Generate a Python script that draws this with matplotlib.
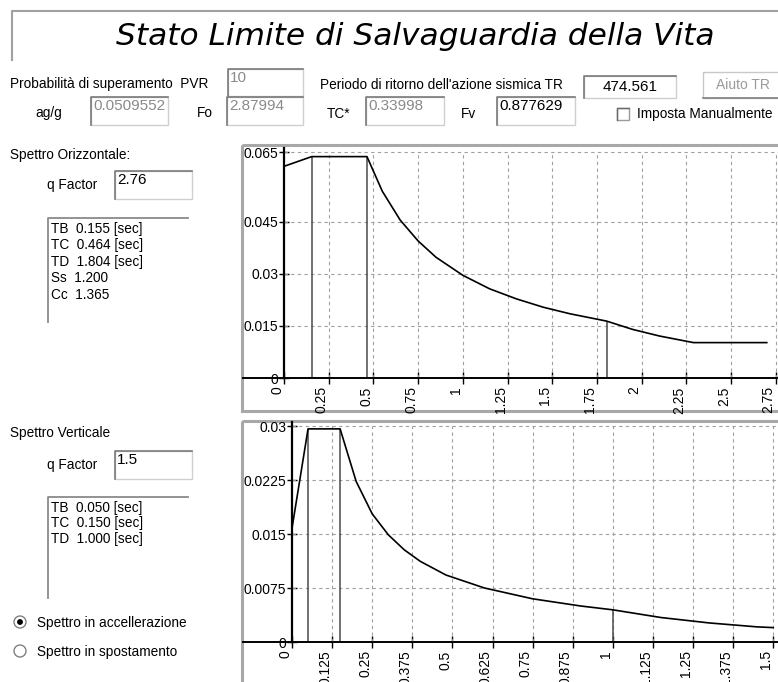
import numpy as np
import matplotlib
matplotlib.use("Agg")
import matplotlib.pyplot as plt
from matplotlib import font_manager
from matplotlib.patches import Rectangle, Circle

W, H = 778, 682

# horizontal spectrum
T_h = [0, 0.155, 0.464, 0.55, 0.65, 0.75, 0.85, 1.0, 1.15, 1.3, 1.45, 1.6,
       1.804, 1.95, 2.1, 2.29, 2.7]
Sa_h = [0.0610, 0.0638, 0.0638, 0.0538, 0.0455, 0.0395, 0.0348, 0.0296, 0.0257,
        0.0228, 0.0204, 0.0185, 0.0164, 0.0140, 0.0121, 0.0102, 0.0102]
marks_h = [0.155, 0.464, 1.804]
xt_h = [0, 0.25, 0.5, 0.75, 1, 1.25, 1.5, 1.75, 2, 2.25, 2.5, 2.75]
xl_h = ["0", "0.25", "0.5", "0.75", "1", "1.25", "1.5", "1.75", "2", "2.25", "2.5", "2.75"]
yt_h = [0, 0.015, 0.03, 0.045, 0.065]
yl_h = ["0", "0.015", "0.03", "0.045", "0.065"]

# vertical spectrum
T_v = [0, 0.05, 0.15, 0.2, 0.25, 0.3, 0.35, 0.4, 0.48, 0.6, 0.75, 0.9, 1.0,
       1.15, 1.3, 1.45, 1.5]
Sa_v = [0.0158, 0.0296, 0.0296, 0.0223, 0.0178, 0.0149, 0.0128, 0.0112, 0.0093,
        0.0075, 0.0060, 0.0050, 0.00447, 0.0034, 0.00265, 0.0021, 0.0020]
marks_v = [0.05, 0.15, 1.0]
xt_v = [0, 0.125, 0.25, 0.375, 0.5, 0.625, 0.75, 0.875, 1, 1.125, 1.25, 1.375, 1.5]
xl_v = ["0", "0.125", "0.25", "0.375", "0.5", "0.625", "0.75", "0.875", "1",
        "1.125", "1.25", "1.375", "1.5"]
yt_v = [0, 0.0075, 0.015, 0.0225, 0.03]
yl_v = ["0", "0.0075", "0.015", "0.0225", "0.03"]

info_h = ["TB  0.155 [sec]", "TC  0.464 [sec]", "TD  1.804 [sec]", "Ss  1.200", "Cc  1.365"]
info_v = ["TB  0.050 [sec]", "TC  0.150 [sec]", "TD  1.000 [sec]"]

plt.rcParams["font.family"] = "Liberation Sans"
names = {f.name for f in font_manager.fontManager.ttflist}
if "Liberation Sans Narrow" in names:
    UI, UI_SIZE = "Liberation Sans Narrow", 11.7
else:
    UI, UI_SIZE = "Liberation Sans", 9.8
GRAY = "#8a8a8a"

fig = plt.figure(figsize=(W / 100, H / 100), dpi=100)
ui = fig.add_axes([0, 0, 1, 1])
ui.set_xlim(0, W)
ui.set_ylim(H, 0)
ui.axis("off")


def label(x, y, s, **kw):
    kw.setdefault("family", UI)
    kw.setdefault("fontsize", UI_SIZE)
    ui.text(x, y, s, va="center", **kw)


def box(x, y, w, h, s="", color="black", center=False):
    ui.add_patch(Rectangle((x, y), w, h, fill=False, ec="#cfcfcf", lw=1))
    ui.plot([x, x, x + w], [y + h, y, y], color="#7a7a7a", lw=1.2)
    if s:
        if center:
            ui.text(x + w / 2, y + h / 2, s, color=color, fontsize=11, ha="center", va="center")
        else:
            ui.text(x + 2, y + 9, s, color=color, fontsize=11, va="center")


# title
ui.plot([12, 12, W], [60, 11, 11], color="#a0a0a0", lw=1.5)
ui.text(415, 45, "Stato Limite di Salvaguardia della Vita", family="DejaVu Sans",
        style="oblique", fontsize=22.5, ha="center", va="baseline")

# first rows
label(10, 84, "Probabilità di superamento  PVR")
box(228, 69, 75, 27, "10", GRAY)
label(320, 85, "Periodo di ritorno dell'azione sismica TR")
box(584, 76, 92, 22, "474.561", center=True)
ui.add_patch(Rectangle((703, 72), 80, 26, fill=False, ec="#c8c8c8", lw=1))
ui.plot([703, 783], [98, 98], color="#808080", lw=1.2)
ui.text(743, 85, "Aiuto TR", color="#9a9a9a", fontsize=10, ha="center", va="center")

label(35, 113, "ag/g")
box(91, 97, 77, 28, "0.0509552", GRAY)
label(197, 113, "Fo")
box(227, 97, 76, 28, "2.87994", GRAY)
label(327, 114, "TC*")
box(366, 97, 78, 28, "0.33998", GRAY)
label(461, 114, "Fv")
box(497, 97, 78, 28, "0.877629")
ui.add_patch(Rectangle((617, 108), 12, 12, fill=False, ec="#9a9a9a", lw=1))
ui.plot([617, 617, 629], [120, 108, 108], color="#6a6a6a", lw=1)
label(637, 114, "Imposta Manualmente")

# left panels
label(10, 155, "Spettro Orizzontale:")
label(47, 185, "q Factor")
box(115, 171, 77, 28, "2.76")
ui.plot([48, 48, 188], [322, 218, 218], color="#8a8a8a", lw=1.3)
for i, s in enumerate(info_h):
    label(51, 229 + 16.5 * i, s)

label(10, 433, "Spettro Verticale")
label(47, 465, "q Factor")
box(115, 451, 77, 28, "1.5")
ui.plot([48, 48, 188], [598, 497, 497], color="#8a8a8a", lw=1.3)
for i, s in enumerate(info_v):
    label(51, 508 + 15.5 * i, s)

ui.add_patch(Circle((20, 622), 6, fill=False, ec="#808080", lw=1))
ui.add_patch(Circle((20, 622), 2.2, color="black"))
label(37, 623, "Spettro in accellerazione")
ui.add_patch(Circle((20, 651), 6, fill=False, ec="#808080", lw=1))
label(37, 652, "Spettro in spostamento")

# chart frames
ui.add_patch(Rectangle((242, 145), 560, 266, fill=False, ec="#a8a8a8", lw=2.2))
ui.add_patch(Rectangle((242, 421), 560, 300, fill=False, ec="#a8a8a8", lw=2.2))


def px_axes(left, top, right, bottom, x0, xs, y0, ys):
    ax = fig.add_axes([left / W, 1 - bottom / H, (right - left) / W, (bottom - top) / H])
    ax.set_xlim((left - x0) / xs, (right - x0) / xs)
    ax.set_ylim((y0 - bottom) / ys, (y0 - top) / ys)
    ax.patch.set_visible(False)
    return ax


def spectrum(ax, T, Sa, marks, xt, xl, yt, yl):
    xmax = ax.get_xlim()[1]
    ytop = yt[-1]
    ax.hlines(yt[1:], 0, xmax, colors="#a0a0a0", linestyles=(0, (3, 3)), lw=0.8)
    ax.vlines(xt[1:], 0, ytop, colors="#a0a0a0", linestyles=(0, (3, 3)), lw=0.8)
    hts = [Sa[T.index(m)] for m in marks]
    ax.vlines(marks, 0, hts, colors="#4a4a4a", lw=1.1)
    ax.plot(T, Sa, color="black", lw=1.2)
    for s in ["top", "right"]:
        ax.spines[s].set_visible(False)
    ax.spines["left"].set_position(("data", 0))
    ax.spines["bottom"].set_position(("data", 0))
    ax.spines["left"].set_bounds(0, ytop * 1.02)
    ax.spines["left"].set_linewidth(1.6)
    ax.spines["bottom"].set_linewidth(1.4)
    ax.set_xticks(xt, xl)
    ax.set_yticks(yt, yl)
    ax.tick_params(axis="y", direction="inout", length=7, width=1, labelsize=10, pad=0.5)
    ax.tick_params(axis="x", direction="inout", length=9, width=1, labelsize=10, pad=1.5)
    plt.setp(ax.get_xticklabels(), rotation=90, ha="right", va="top")


ax1 = px_axes(243, 146, 778, 410, 284, 44.7 / 0.25, 378, 3470)
spectrum(ax1, T_h, Sa_h, marks_h, xt_h, xl_h, yt_h, yl_h)

ax2 = px_axes(243, 422, 778, 682, 292, 40.1 / 0.125, 642, 7200)
spectrum(ax2, T_v, Sa_v, marks_v, xt_v, xl_v, yt_v, yl_v)

fig.savefig("out.png", dpi=100)
